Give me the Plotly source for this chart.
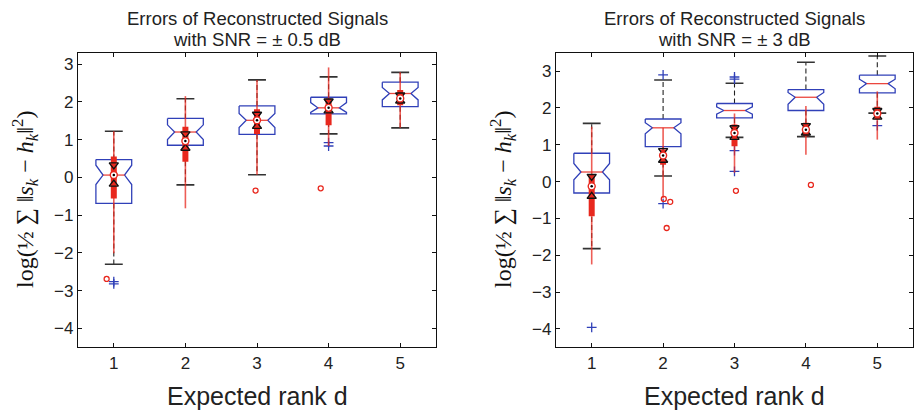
import plotly.graph_objects as go

# ---------------- data ----------------
ranks = [1, 2, 3, 4, 5]
tick_labels = ["1", "2", "3", "4", "5"]

title_line1 = ["Errors of Reconstructed Signals", "Errors of Reconstructed Signals"]
title_line2 = ["with SNR = \u00b1 0.5 dB", "with SNR = \u00b1 3 dB"]
x_title = "Expected rank d"

# left panel (SNR = +-0.5 dB) : blue notched boxplot
L_q1 = [-0.69, 0.85, 1.14, 1.68, 1.87]
L_med = [0.06, 1.20, 1.51, 1.84, 2.22]
L_q3 = [0.47, 1.56, 1.89, 2.12, 2.52]
L_nlo = [-0.19, 1.00, 1.32, 1.72, 2.05]
L_nhi = [0.32, 1.39, 1.69, 1.98, 2.38]
L_wlo = [-2.30, -0.20, 0.07, 1.15, 1.31]
L_whi = [1.22, 2.08, 2.58, 2.66, 2.78]
L_out_x = [1, 1, 4, 4]
L_out_y = [-2.76, -2.82, 0.92, 0.83]
# left panel : red compact boxplot
L_rq1 = [-0.56, 0.41, 1.15, 1.38, 1.91]
L_rq3 = [0.55, 1.34, 1.80, 2.09, 2.31]
L_rmed = [0.06, 0.96, 1.51, 1.84, 2.09]
L_rnlo = [-0.18, 0.77, 1.35, 1.76, 2.02]
L_rnhi = [0.33, 1.15, 1.67, 2.02, 2.18]
L_rwlo = [-2.01, -0.82, 0.07, 0.83, 1.31]
L_rwhi = [1.22, 2.15, 2.58, 2.91, 2.78]
L_rout_x = [0.90, 2.98, 3.89]
L_rout_y = [-2.69, -0.35, -0.29]

# right panel (SNR = +-3 dB) : blue notched boxplot
R_q1 = [-0.31, 0.95, 1.73, 1.93, 2.41]
R_med = [0.26, 1.46, 1.93, 2.29, 2.66]
R_q3 = [0.77, 1.70, 2.12, 2.50, 2.89]
R_nlo = [0.05, 1.30, 1.83, 2.10, 2.52]
R_nhi = [0.49, 1.60, 2.03, 2.42, 2.78]
R_wlo = [-1.82, 0.15, 1.20, 1.22, 1.86]
R_whi = [1.58, 2.76, 2.67, 3.24, 3.41]
R_out_x = [1, 2, 2, 3, 3, 3, 3, 5]
R_out_y = [-3.96, 2.90, -0.60, 2.78, 2.84, 0.84, 0.28, 1.52]
# right panel : red compact boxplot
R_rq1 = [-0.94, 0.46, 0.96, 1.23, 1.69]
R_rq3 = [0.19, 0.87, 1.55, 1.60, 2.03]
R_rmed = [-0.13, 0.71, 1.32, 1.41, 1.85]
R_rnlo = [-0.40, 0.58, 1.20, 1.32, 1.75]
R_rnhi = [0.14, 0.84, 1.46, 1.52, 1.93]
R_rwlo = [-2.25, -0.45, 0.24, 0.73, 1.14]
R_rwhi = [1.49, 1.46, 1.85, 2.05, 2.45]
R_rout_x = [2.01, 2.10, 2.05, 3.02, 4.07]
R_rout_y = [-0.47, -0.55, -1.26, -0.25, -0.09]

y_ranges = [[-4.5, 3.3], [-4.5, 3.5]]

# ---------------- style ----------------
BLUE = "#3040b8"
RED = "#e8281e"
W = 0.25      # box half width
WN = 0.15     # notch half width
CAP = 0.125   # whisker cap half width
FONT = "Liberation Sans, Arial, sans-serif"

fig = go.Figure()


def add_panel(xa, ya, q1, med, q3, nlo, nhi, wlo, whi, ox, oy,
              rq1, rq3, rmed, rnlo, rnhi, rwlo, rwhi, rox, roy):
    bx, by, mx, my, wx, wy, cx, cy = [], [], [], [], [], [], [], []
    tx, ty, kx, ky = [], [], [], []
    for i, x in enumerate(ranks):
        bx += [x - W, x + W, x + W, x + WN, x + W, x + W, x - W, x - W, x - WN, x - W, x - W, None]
        by += [q3[i], q3[i], nhi[i], med[i], nlo[i], q1[i], q1[i], nlo[i], med[i], nhi[i], q3[i], None]
        mx += [x - WN, x + WN, None]
        my += [med[i], med[i], None]
        wx += [x, x, None, x, x, None]
        wy += [q3[i], whi[i], None, q1[i], wlo[i], None]
        cx += [x - CAP, x + CAP, None, x - CAP, x + CAP, None]
        cy += [whi[i], whi[i], None, wlo[i], wlo[i], None]
        tx += [x, x, None]
        ty += [rwlo[i], rwhi[i], None]
        kx += [x, x, None]
        ky += [rq1[i], rq3[i], None]
    common = dict(xaxis=xa, yaxis=ya, showlegend=False, hoverinfo="skip")
    fig.add_trace(go.Scatter(x=wx, y=wy, mode="lines",
                             line=dict(color="#222222", width=1.1, dash="5px,3px"), **common))
    fig.add_trace(go.Scatter(x=cx, y=cy, mode="lines",
                             line=dict(color="#333333", width=1.6), **common))
    fig.add_trace(go.Scatter(x=bx, y=by, mode="lines",
                             line=dict(color=BLUE, width=1.3), **common))
    fig.add_trace(go.Scatter(x=ox, y=oy, mode="markers",
                             marker=dict(symbol="cross-thin", size=7, color=BLUE,
                                         line=dict(color=BLUE, width=1.3)), **common))
    fig.add_trace(go.Scatter(x=tx, y=ty, mode="lines", opacity=0.75,
                             line=dict(color=RED, width=1.6), **common))
    fig.add_trace(go.Scatter(x=mx, y=my, mode="lines", opacity=0.85,
                             line=dict(color=RED, width=1.3), **common))
    fig.add_trace(go.Scatter(x=kx, y=ky, mode="lines",
                             line=dict(color=RED, width=6), **common))
    fig.add_trace(go.Scatter(x=ranks, y=rnhi, mode="markers",
                             marker=dict(symbol="triangle-down-open", size=8, color="#111111",
                                         line=dict(color="#111111", width=1.4)), **common))
    fig.add_trace(go.Scatter(x=ranks, y=rnlo, mode="markers",
                             marker=dict(symbol="triangle-up-open", size=8, color="#111111",
                                         line=dict(color="#111111", width=1.4)), **common))
    fig.add_trace(go.Scatter(x=ranks, y=rmed, mode="markers",
                             marker=dict(symbol="circle", size=7, color="white",
                                         line=dict(color=RED, width=1.4)), **common))
    fig.add_trace(go.Scatter(x=ranks, y=rmed, mode="markers",
                             marker=dict(symbol="circle", size=2.5, color="black",
                                         line=dict(width=0)), **common))
    fig.add_trace(go.Scatter(x=rox, y=roy, mode="markers",
                             marker=dict(symbol="circle-open", size=5, color=RED,
                                         line=dict(color=RED, width=1.3)), **common))


add_panel("x", "y", L_q1, L_med, L_q3, L_nlo, L_nhi, L_wlo, L_whi, L_out_x, L_out_y,
          L_rq1, L_rq3, L_rmed, L_rnlo, L_rnhi, L_rwlo, L_rwhi, L_rout_x, L_rout_y)
add_panel("x2", "y2", R_q1, R_med, R_q3, R_nlo, R_nhi, R_wlo, R_whi, R_out_x, R_out_y,
          R_rq1, R_rq3, R_rmed, R_rnlo, R_rnhi, R_rwlo, R_rwhi, R_rout_x, R_rout_y)

X_DOMS = [[78 / 914, 436 / 914], [556 / 914, 913 / 914]]
Y_DOM = [1 - 347.3 / 411, 1 - 52.7 / 411]

ax_common = dict(showline=True, linecolor="#111111", linewidth=1.2, mirror="ticks",
                 ticks="inside", ticklen=4, tickcolor="#111111", showgrid=False,
                 zeroline=False, tickfont=dict(family=FONT, size=17, color="#222222"))

layout = dict(width=914, height=411, margin=dict(l=0, r=0, t=0, b=0),
              paper_bgcolor="white", plot_bgcolor="white", showlegend=False)
for k, (xa, ya) in enumerate([("xaxis", "yaxis"), ("xaxis2", "yaxis2")]):
    layout[xa] = dict(domain=X_DOMS[k], range=[0.5, 5.5], tickvals=ranks, ticktext=tick_labels,
                      anchor="y" if k == 0 else "y2", **ax_common)
    layout[ya] = dict(domain=Y_DOM, range=y_ranges[k], dtick=1,
                      anchor="x" if k == 0 else "x2", **ax_common)
fig.update_layout(**layout)

ylabel = ("log(\u00bd \u2211 \u2016<i>s</i><sub><i>k</i></sub> \u2212 "
          "<i>h</i><sub><i>k</i></sub>\u2016<sup>2</sup>)")
for k in range(2):
    cxp = (X_DOMS[k][0] + X_DOMS[k][1]) / 2
    fig.add_annotation(text=title_line1[k], x=cxp, y=1 - 18.5 / 411, xref="paper", yref="paper",
                       showarrow=False, xanchor="center", yanchor="middle",
                       font=dict(family=FONT, size=18.5, color="#222222"))
    fig.add_annotation(text=title_line2[k], x=cxp, y=1 - 39.5 / 411, xref="paper", yref="paper",
                       showarrow=False, xanchor="center", yanchor="middle",
                       font=dict(family=FONT, size=18.5, color="#222222"))
    fig.add_annotation(text=x_title, x=cxp, y=1 - 396 / 411, xref="paper", yref="paper",
                       showarrow=False, xanchor="center", yanchor="middle",
                       font=dict(family=FONT, size=25, color="#222222"))
    fig.add_annotation(text=ylabel, x=(25 if k == 0 else 503) / 914, y=(Y_DOM[0] + Y_DOM[1]) / 2,
                       xref="paper", yref="paper", showarrow=False, textangle=-90,
                       xanchor="center", yanchor="middle",
                       font=dict(family="Liberation Serif, Times New Roman, serif", size=24,
                                 color="#111111"))

fig.write_html("out.html", config={"displayModeBar": False},
               post_script="document.body.style.margin='0';document.body.style.overflow='hidden';")
